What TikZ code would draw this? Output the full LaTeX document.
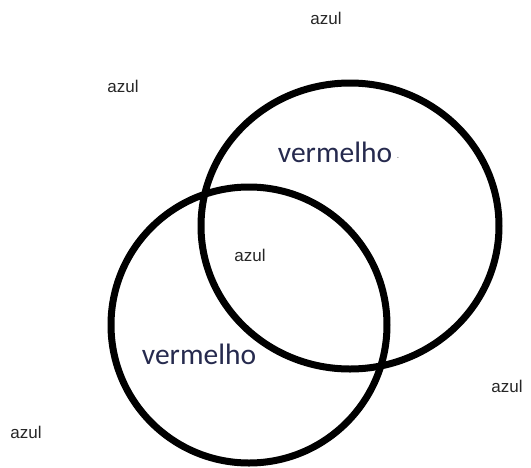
\documentclass[tikz,border=0pt]{standalone}
\usepackage{fontspec}
\setmainfont{Liberation Sans}
\newfontfamily\carl{Carlito}
\definecolor{navy}{HTML}{262A4E}
\tikzset{
  ring/.style={draw=black, line width=7pt},
  azullabel/.style={inner sep=0pt, font=\fontsize{17}{19}\selectfont, text=black!85},
  redlabel/.style={inner sep=0pt, font=\carl\fontsize{29.5}{32}\selectfont, text=navy}
}
\begin{document}
\begin{tikzpicture}[x=1pt, y=-1pt]
\useasboundingbox (0,0) rectangle (531,467);
\draw[ring] (350,226) ellipse [x radius=149, y radius=143];
\draw[ring] (249,325) circle [radius=138];
\node[azullabel] (t1) at (326,18) {azul};
\node[azullabel] (t2) at (123,86) {azul};
\node[redlabel] (v1) at (335,152) {vermelho};
\node[inner sep=0pt, font=\fontsize{10}{10}\selectfont, text=gray] (dot) at (398,158) {.};
\node[azullabel] (t3) at (250,255) {azul};
\node[redlabel] (v2) at (199,354) {vermelho};
\node[azullabel] (t4) at (507,386) {azul};
\node[azullabel] (t5) at (26,432) {azul};
\end{tikzpicture}
\end{document}
